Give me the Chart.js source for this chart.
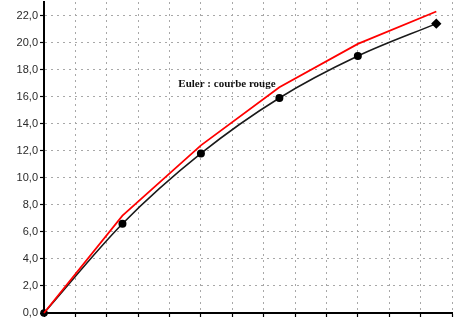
<!DOCTYPE html>
<html>
<head>
<meta charset="utf-8">
<script src="https://cdn.jsdelivr.net/npm/chart.js@4/dist/chart.umd.min.js"></script>
<style>
  html, body { margin: 0; padding: 0; background: #fff; overflow: hidden; }
  #wrap { width: 454px; height: 320px; }
</style>
</head>
<body>
<div id="wrap"><canvas id="eulerChart"></canvas></div>
<script>
// abscissas of the computed points (grid units)
const steps = [0, 2.5, 5, 7.5, 10, 12.5];
// exact solution (black, with markers)
const exactValues = [0, 6.6, 11.8, 15.9, 19.0, 21.4];
// Euler approximation (red)
const eulerValues = [0, 7.2, 12.4, 16.7, 19.9, 22.3];
const yTickValues = [0, 2, 4, 6, 8, 10, 12, 14, 16, 18, 20, 22, 23];
const noteText = 'Euler : courbe rouge';
const notePos = { x: 5.83, y: 16.95 };

const ctx = document.getElementById('eulerChart').getContext('2d');

// writes the note in data coordinates
const notePlugin = {
    id: 'note',
    afterDatasetsDraw(chart) {
        const c = chart.ctx;
        const x = chart.scales.x.getPixelForValue(notePos.x);
        const y = chart.scales.y.getPixelForValue(notePos.y);
        c.save();
        c.font = 'bold 11px "Liberation Serif", "Times New Roman", serif';
        c.fillStyle = '#111';
        c.textAlign = 'center';
        c.textBaseline = 'middle';
        c.fillText(noteText, x, y);
        c.restore();
    }
};

new Chart(ctx, {
    type: 'line',
    data: {
        datasets: [{
            label: 'Euler',
            data: steps.map((s, i) => ({ x: s, y: eulerValues[i] })),
            borderColor: '#ff0000',
            borderWidth: 1.8,
            pointRadius: 0,
            tension: 0,
            clip: false
        }, {
            label: 'Exacte',
            data: steps.map((s, i) => ({ x: s, y: exactValues[i] })),
            borderColor: '#1a1a1a',
            borderWidth: 1.6,
            backgroundColor: '#000',
            pointBackgroundColor: '#000',
            pointBorderColor: '#000',
            pointRadius: [3, 3.2, 3.2, 3.2, 3.2, 4],
            pointStyle: ['circle', 'circle', 'circle', 'circle', 'circle', 'rectRot'],
            cubicInterpolationMode: 'monotone',
            clip: false
        }]
    },
    options: {
        responsive: true,
        maintainAspectRatio: false,
        animation: false,
        layout: { autoPadding: false, padding: { top: 2, right: 2, left: 0, bottom: 0 } },
        plugins: {
            legend: { display: false },
            tooltip: { enabled: false }
        },
        scales: {
            x: {
                type: 'linear',
                min: 0,
                max: 13,
                ticks: { stepSize: 1, display: false },
                grid: {
                    color: '#a8a8a8',
                    tickLength: 4,
                    tickColor: '#000',
                    tickBorderDash: [],
                    tickWidth: 1.2
                },
                border: { display: true, color: '#000', width: 2, dash: [2, 4] },
                afterFit(scale) { scale.height = 7; }
            },
            y: {
                min: 0,
                max: 23,
                afterBuildTicks(scale) {
                    scale.ticks = yTickValues.map(v => ({ value: v }));
                },
                ticks: {
                    padding: 2,
                    color: '#2a2a2a',
                    font: { family: '"Liberation Sans", Arial, sans-serif', size: 11 },
                    // the top value only closes the frame
                    callback: v => (v % 2 === 0 ? v.toFixed(1).replace('.', ',') : null)
                },
                grid: {
                    color: '#a8a8a8',
                    tickLength: 4,
                    tickColor: '#000',
                    tickBorderDash: [],
                    tickWidth: 1.2
                },
                border: { display: true, color: '#000', width: 2, dash: [2, 4] },
                afterFit(scale) {
                    scale.width = 44;
                    scale.paddingTop = 0;
                    scale.paddingBottom = 0;
                }
            }
        }
    },
    plugins: [notePlugin]
});
</script>
</body>
</html>
